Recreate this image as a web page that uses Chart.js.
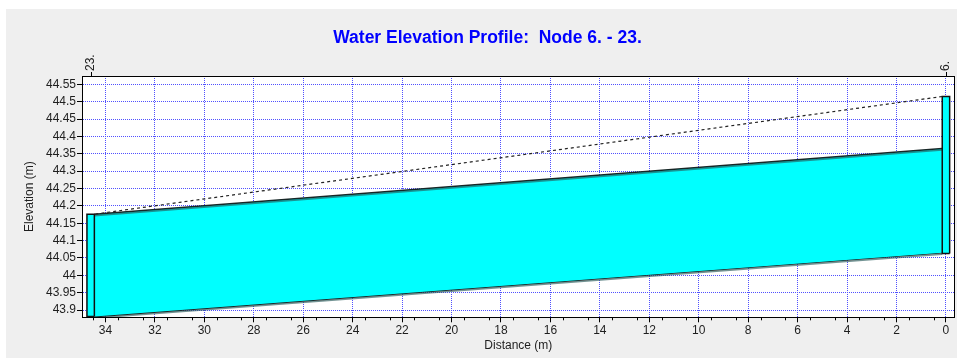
<!DOCTYPE html>
<html>
<head>
<meta charset="utf-8">
<title>Water Elevation Profile</title>
<script src="https://cdn.jsdelivr.net/npm/chart.js@4"></script>
<style>
  html, body { margin: 0; padding: 0; background: #ffffff; }
  canvas { display: block; }
</style>
</head>
<body>
<canvas id="profile" width="958" height="358"></canvas>
<script>
// Nodes along the profile (distance measured from node 6.)
const nodeNames = ['6.', '23.'];
const nodeDistance = [0, 34.6];
const nodeInvert = [44.063, 43.881];
const nodeRim = [44.515, 44.176];

// Conduit between the two nodes
const pipeDistance = [0.15, 34.45];
const pipeInvert = [44.065, 43.881];
const pipeCrown = [44.365, 44.176];
const waterSurface = [44.515, 44.176];

// Axis tick labels
const xTickLabels = ['0', '2', '4', '6', '8', '10', '12', '14', '16', '18', '20', '22', '24', '26', '28', '30', '32', '34'];
const yTickLabels = ['43.9', '43.95', '44', '44.05', '44.1', '44.15', '44.2', '44.25', '44.3', '44.35', '44.4', '44.45', '44.5', '44.55'];

const chartTitle = 'Water Elevation Profile:  Node 6. - 23.';
const manholeHalfWidth = 0.15;
const FONT = "'Liberation Sans', Arial, sans-serif";

const xTickValues = xTickLabels.map(Number);
const yTickValues = yTickLabels.map(Number);

function manholeOutline(i) {
  const d = nodeDistance[i];
  return [
    { x: d - manholeHalfWidth, y: nodeInvert[i] },
    { x: d - manholeHalfWidth, y: nodeRim[i] },
    { x: d + manholeHalfWidth, y: nodeRim[i] },
    { x: d + manholeHalfWidth, y: nodeInvert[i] },
    { x: d - manholeHalfWidth, y: nodeInvert[i] }
  ];
}
const toPoints = ys => pipeDistance.map((d, i) => ({ x: d, y: ys[i] }));

// Panel background, white plot area, frame, minor ticks and labels
const decorations = {
  id: 'decorations',
  beforeDraw(chart) {
    const { ctx, chartArea: a } = chart;
    ctx.save();
    ctx.fillStyle = '#ffffff';
    ctx.fillRect(0, 0, chart.width, chart.height);
    ctx.fillStyle = '#efefef';
    ctx.fillRect(6, 9, chart.width - 7, chart.height - 9);
    ctx.fillStyle = '#ffffff';
    ctx.fillRect(a.left, a.top, a.right - a.left, a.bottom - a.top);
    ctx.restore();
  },
  // conduit edges get a soft drop shadow
  beforeDatasetDraw(chart, args) {
    if (chart.data.datasets[args.index].edgeShadow) {
      const ctx = chart.ctx;
      ctx.save();
      ctx.shadowColor = 'rgba(40, 90, 90, 0.65)';
      ctx.shadowOffsetY = 1.5;
      ctx.shadowBlur = 0.5;
    }
  },
  afterDatasetDraw(chart, args) {
    if (chart.data.datasets[args.index].edgeShadow) chart.ctx.restore();
  },
  afterDraw(chart) {
    const { ctx, chartArea: a } = chart;
    const xs = chart.scales.x;
    ctx.save();
    // plot frame
    ctx.strokeStyle = '#000000';
    ctx.lineWidth = 1;
    ctx.strokeRect(Math.round(a.left) + 0.5, Math.round(a.top) + 0.5,
                   Math.round(a.right - a.left) - 1, Math.round(a.bottom - a.top));
    // minor ticks on the distance axis
    ctx.beginPath();
    for (let v = 0.5; v < xs.max; v += 1) {
      const px = Math.round(xs.getPixelForValue(v)) + 0.5;
      ctx.moveTo(px, a.bottom);
      ctx.lineTo(px, a.bottom + 3);
    }
    ctx.stroke();
    // node labels above the plot
    ctx.fillStyle = '#222222';
    ctx.font = '12px ' + FONT;
    ctx.textBaseline = 'middle';
    ctx.textAlign = 'left';
    nodeNames.forEach((name, i) => {
      const px = xs.getPixelForValue(nodeDistance[i]);
      ctx.beginPath();
      ctx.moveTo(Math.round(px) + 0.5, a.top - 4);
      ctx.lineTo(Math.round(px) + 0.5, a.top);
      ctx.stroke();
      ctx.save();
      ctx.translate(px, a.top - 5);
      ctx.rotate(-Math.PI / 2);
      ctx.fillText(name, 0, 0);
      ctx.restore();
    });
    // chart title
    ctx.fillStyle = '#0000ff';
    ctx.font = 'bold 17.5px ' + FONT;
    ctx.textAlign = 'center';
    ctx.textBaseline = 'middle';
    ctx.fillText(chartTitle, 487.5, 38);
    ctx.restore();
  }
};

const pipeEdge = '#172626';

new Chart(document.getElementById('profile'), {
  type: 'line',
  data: {
    datasets: [
      {
        label: 'Water surface',
        data: toPoints(waterSurface),
        borderColor: '#222222',
        borderWidth: 1.2,
        borderDash: [3, 3],
        fill: false
      },
      {
        label: 'Node ' + nodeNames[0],
        data: manholeOutline(0),
        borderColor: '#111111',
        borderWidth: 1.5,
        backgroundColor: '#00ffff',
        fill: 'shape'
      },
      {
        label: 'Node ' + nodeNames[1],
        data: manholeOutline(1),
        borderColor: '#111111',
        borderWidth: 1.5,
        backgroundColor: '#00ffff',
        fill: 'shape'
      },
      {
        label: 'Crown',
        data: toPoints(pipeCrown),
        borderColor: pipeEdge,
        borderWidth: 1.6,
        backgroundColor: '#00ffff',
        fill: '+1',
        edgeShadow: true
      },
      {
        label: 'Invert',
        data: toPoints(pipeInvert),
        borderColor: pipeEdge,
        borderWidth: 1.6,
        fill: false,
        edgeShadow: true
      }
    ]
  },
  options: {
    responsive: false,
    animation: false,
    devicePixelRatio: 1,
    events: [],
    elements: { point: { radius: 0 }, line: { tension: 0 } },
    layout: { padding: { top: 76, right: 3.4, bottom: 0, left: 0 } },
    plugins: {
      legend: { display: false },
      tooltip: { enabled: false },
      title: { display: false }
    },
    scales: {
      x: {
        type: 'linear',
        reverse: true,
        min: -0.35,
        max: 34.95,
        afterBuildTicks(scale) { scale.ticks = xTickValues.map(v => ({ value: v })); },
        afterFit(scale) { scale.height = 40.7; },
        ticks: {
          padding: 1,
          color: '#1e1e1e',
          font: { family: FONT, size: 12 },
          maxRotation: 0,
          autoSkip: false,
          callback: (v) => xTickLabels[xTickValues.indexOf(v)]
        },
        grid: {
          color: '#5050ff',
          lineWidth: 1,
          tickLength: 5,
          tickColor: '#000000',
          tickBorderDash: [],
          drawTicks: true
        },
        border: { display: true, color: '#000000', width: 1, dash: [1, 1] },
        title: {
          display: true,
          text: 'Distance (m)',
          color: '#1e1e1e',
          font: { family: FONT, size: 12 },
          padding: { top: 0, bottom: 5.2 }
        }
      },
      y: {
        type: 'linear',
        min: 43.879,
        max: 44.574,
        afterBuildTicks(scale) { scale.ticks = yTickValues.map(v => ({ value: v })); },
        afterFit(scale) { scale.width = 82; },
        ticks: {
          padding: 1,
          color: '#1e1e1e',
          font: { family: FONT, size: 12 },
          autoSkip: false,
          callback: (v) => yTickLabels[yTickValues.indexOf(v)]
        },
        grid: {
          color: '#5050ff',
          lineWidth: 1,
          tickLength: 5,
          tickColor: '#000000',
          tickBorderDash: [],
          drawTicks: true
        },
        border: { display: true, color: '#000000', width: 1, dash: [1, 1] },
        title: {
          display: true,
          text: 'Elevation (m)',
          color: '#1e1e1e',
          font: { family: FONT, size: 12 },
          padding: { top: 22.8, bottom: 0 }
        }
      }
    }
  },
  plugins: [decorations]
});
</script>
</body>
</html>
